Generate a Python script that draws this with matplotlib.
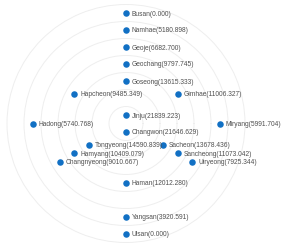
import numpy as np
import matplotlib
matplotlib.use("Agg")
import matplotlib.pyplot as plt

names = ["Busan", "Namhae", "Geoje", "Geochang", "Goseong", "Hapcheon", "Gimhae",
         "Jinju", "Hadong", "Miryang", "Changwon", "Tongyeong", "Sacheon",
         "Hamyang", "Sancheong", "Changnyeong", "Uiryeong", "Haman", "Yangsan", "Ulsan"]
values = [0.000, 5180.898, 6682.700, 9797.745, 13615.333, 9485.349, 11006.327,
          21839.223, 5740.768, 5991.704, 21646.629, 14590.839, 13678.436,
          10409.079, 11073.042, 9010.667, 7925.344, 12012.280, 3920.591, 0.000]
angles_deg = [90, 90, 90, 90, 90, 150, 30,
              90, 180, 0, 270, 210, 330,
              210, 330, 210, 330, 270, 270, 270]
ring_band = [6, 5, 4, 3, 2, 3, 3,
             0, 5, 5, 0, 2, 2,
             3, 3, 4, 4, 3, 5, 6]

W, H = 290, 251
fig = plt.figure(figsize=(W / 100, H / 100), dpi=100)
cx, cy, R = 126, 126.5, 119
ax = fig.add_axes([(cx - R) / W, (cy - R) / H, 2 * R / W, 2 * R / H], projection="polar")
ax.set_ylim(0, 7)
ax.set_rgrids(range(1, 7))
ax.set_thetagrids([])
ax.set_yticklabels([])
ax.grid(True, axis="y", color="#eeeeee", linewidth=0.7)
ax.grid(False, axis="x")
ax.spines["polar"].set_color("#eeeeee")
ax.spines["polar"].set_linewidth(0.7)
ax.set_facecolor("none")

theta = np.deg2rad(angles_deg)
r = np.array(ring_band) + 0.5
ax.scatter(theta, r, s=22, color="#1170c4", zorder=3, linewidths=0, clip_on=False)
for t, rr, n, v in zip(theta, r, names, values):
    ax.annotate(f"{n}({v:.3f})", xy=(t, rr), xytext=(4.2, 0), textcoords="offset points",
                ha="left", va="center", fontsize=4.75, color="#505050",
                family="Liberation Sans", annotation_clip=False)

fig.savefig("out.png", dpi=100)
